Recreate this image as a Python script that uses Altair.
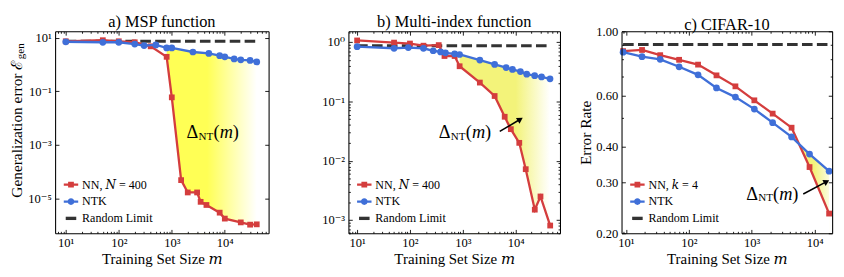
import altair as alt
import pandas as pd

FONT = "'Liberation Serif', 'Times New Roman', 'DejaVu Serif', serif"
RED = "#d43d3d"
BLUE = "#3f6fd8"
DARK = "#333333"

# ---------------- data: a) MSP function ----------------
a_nn_m = [10, 50, 100, 200, 400, 800, 1000, 1500, 2000, 3000, 3500, 4500, 8000, 10000, 20000, 30000, 40000]
a_nn_err = [7.4, 8.1, 7.4, 6.8, 4.8, 1.95, 0.060, 4.9e-5, 1.7e-5, 1.7e-5, 7.6e-6, 5.8e-6, 3.0e-6, 1.8e-6, 1.3e-6, 1.07e-6, 1.1e-6]
a_ntk_m = [10, 50, 100, 200, 300, 500, 800, 1000, 2500, 5000, 8000, 10000, 15000, 20000, 30000, 40000]
a_ntk_err = [7.1, 6.8, 6.8, 5.8, 5.1, 5.4, 4.2, 4.2, 2.95, 2.6, 2.15, 1.95, 1.62, 1.51, 1.43, 1.26]
a_random = 7.4

# ---------------- data: b) Multi-index function ----------------
b_nn_m = [10, 50, 100, 180, 350, 450, 700, 870, 2100, 4000, 6200, 8100, 11700, 15500, 23000, 29500, 45000]
b_nn_err = [1.06, 0.975, 0.94, 0.865, 0.885, 0.58, 0.58, 0.39, 0.207, 0.123, 0.055, 0.034, 0.020, 0.0072, 0.0015, 0.0025, 0.00081]
b_ntk_m = [10, 50, 93, 180, 275, 380, 470, 700, 870, 2100, 4000, 6600, 8700, 12300, 16200, 22900, 30900, 44700]
b_ntk_err = [0.834, 0.783, 0.804, 0.783, 0.711, 0.678, 0.655, 0.631, 0.615, 0.495, 0.419, 0.371, 0.344, 0.317, 0.287, 0.271, 0.258, 0.240]
b_random = 0.865

# ---------------- data: c) CIFAR-10 ----------------
c_m = [9, 18, 35, 70, 140, 275, 550, 1100, 2150, 4300, 8300, 17000]
c_ntk_err = [0.847, 0.817, 0.800, 0.754, 0.707, 0.637, 0.592, 0.538, 0.483, 0.431, 0.376, 0.328]
c_nn_err = [0.854, 0.862, 0.827, 0.797, 0.767, 0.704, 0.645, 0.577, 0.519, 0.464, 0.339, 0.234]
c_random = 0.9

# ---------------- tick labels ----------------
x_major = [10, 100, 1000, 10000]
x_major_labels = ["10¹", "10²", "10³", "10⁴"]
a_y_major = [10, 0.1, 0.001, 0.00001]
a_y_labels = ["10¹", "10⁻¹", "10⁻³", "10⁻⁵"]
b_y_major = [1, 0.1, 0.01, 0.001]
b_y_labels = ["10⁰", "10⁻¹", "10⁻²", "10⁻³"]
c_y_major = [0.2, 0.3, 0.4, 0.6, 1.0]
c_y_labels = ["0.20", "0.30", "0.40", "0.60", "1.00"]
c_y_minor = [0.5, 0.7, 0.8, 0.9]

# annotations (anchor of the Delta label, arrows)
a_ann = {"m": 1900, "err": 3.1e-3}
b_ann = {"m": 350, "err": 0.030}
c_ann = {"m": 815, "err": 0.274}
b_arrow = {"m": 5000, "err": 0.0311, "m2": 12200, "err2": 0.050, "angle": 328}
c_arrow = {"m": 6600, "err": 0.2735, "m2": 15500, "err2": 0.302, "angle": 331}

P_NN = "M-1,-0.16H1V0.16H-1Z M-0.4,-0.4H0.4V0.4H-0.4Z"
P_NTK = "M-1,-0.16H1V0.16H-1Z M0.47,0A0.47,0.47 0 1,1 -0.47,0A0.47,0.47 0 1,1 0.47,0Z"
P_RAND = "M-0.73,-0.23H0.73V0.23H-0.73Z"


def log_ticks(lo, hi):
    out = []
    for e in range(-8, 6):
        for k in range(1, 10):
            v = float(f"{k * 10.0 ** e:.6g}")
            if lo <= v <= hi:
                out.append(v)
    return out


def match_expr(vals):
    return " || ".join(f"abs(datum.value / {v!r} - 1) < 1e-6" for v in vals)


def label_expr(vals, labels):
    parts = [f"abs(datum.value / {v!r} - 1) < 1e-6 ? '{l}'" for v, l in zip(vals, labels)]
    return " : ".join(parts) + " : ''"


def make_panel(title, W, H, xdom, ydom, nn_m, nn_err, ntk_m, ntk_err, rnd, nn_label,
               y_major, y_labels, y_ticks, fill_start, fill_color, fade, fade_end_color,
               ann, arrow=None, ytitle=None, ytitle_xy=None, y_minext=None, gen_sub=False,
               title_offset=0):
    xs = alt.Scale(type="log", domain=xdom, nice=False)
    ys = alt.Scale(type="log", domain=ydom, nice=False)
    x_ticks = log_ticks(*xdom)
    xcond = {"condition": {"test": match_expr(x_major), "value": 4}, "value": 2}
    ycond = {"condition": {"test": match_expr(y_major), "value": 4}, "value": 2}
    tick_common = dict(labels=False, grid=False, domain=True, domainColor="black", domainWidth=1.1,
                       ticks=True, tickColor="black", tickWidth=0.9, zindex=2, title=None)
    x_lab = alt.Axis(orient="bottom", values=x_major, labelExpr=label_expr(x_major, x_major_labels),
                     ticks=False, domain=False, grid=False, labelFont=FONT, labelFontSize=13,
                     labelColor="black", labelPadding=4, labelFlush=False, labelOverlap=False,
                     title="Training Set Size 𝑚", titleFont=FONT, titleFontSize=15.5,
                     titleFontWeight="normal", titleColor="black", titlePadding=2, zindex=2)
    ykw = dict(orient="left", values=y_major, labelExpr=label_expr(y_major, y_labels), ticks=False,
               domain=False, grid=False, labelFont=FONT, labelFontSize=13, labelColor="black",
               labelPadding=4, labelFlush=False, labelOverlap=False, titleFont=FONT, titleFontSize=16,
               titleFontWeight="normal", titleColor="black", titlePadding=2, zindex=2)
    if ytitle is None:
        ykw["title"] = "\u00a0"
    else:
        ykw["title"] = ytitle
    if ytitle_xy is not None:
        ykw.update(titleX=ytitle_xy[0], titleY=ytitle_xy[1], titleAngle=270, titleAlign="right",
                   titleBaseline="alphabetic")
    if y_minext is not None:
        ykw["minExtent"] = y_minext
    y_lab = alt.Axis(**ykw)
    x_t1 = alt.Axis(orient="top", offset=-H, values=x_ticks, tickSize=xcond, **tick_common)
    x_t2 = alt.Axis(orient="bottom", offset=-H, values=x_ticks, tickSize=xcond, **tick_common)
    y_t1 = alt.Axis(orient="right", offset=-W, values=y_ticks, tickSize=ycond, **tick_common)
    y_t2 = alt.Axis(orient="left", offset=-W, values=y_ticks, tickSize=ycond, **tick_common)

    def X(f, axis=None):
        return alt.X(f, type="quantitative", scale=xs, axis=axis)

    def Y(f, axis=None):
        return alt.Y(f, type="quantitative", scale=ys, axis=axis)

    nn = pd.DataFrame({"m": nn_m, "err": nn_err})
    ntk = pd.DataFrame({"m": ntk_m, "err": ntk_err})
    fill_df = ntk[ntk["m"] >= fill_start].assign(base=ydom[0])
    white_df = nn.assign(base=ydom[0])
    rnd_df = pd.DataFrame({"m": [min(nn_m[0], ntk_m[0]), max(nn_m[-1], ntk_m[-1])], "err": [rnd, rnd]})

    grad = alt.Gradient(gradient="linear", x1=0, x2=1, y1=0, y2=0,
                        stops=[alt.GradientStop(color=fill_color, offset=0),
                               alt.GradientStop(color=fill_color, offset=fade),
                               alt.GradientStop(color=fade_end_color, offset=1)])
    yellow = alt.Chart(fill_df).mark_area(color=grad, opacity=1).encode(
        x=X("m", x_lab), y=Y("err", y_lab), y2="base:Q")
    white = alt.Chart(white_df).mark_area(color="white", opacity=1).encode(
        x=X("m", x_t1), y=Y("err", y_t1), y2="base:Q")
    rline = alt.Chart(rnd_df).mark_line(color=DARK, strokeWidth=3, strokeDash=[11, 4.5]).encode(
        x=X("m", x_t2), y=Y("err", y_t2))
    red = alt.Chart(nn).mark_line(color=RED, strokeWidth=2.4,
                                  point=alt.OverlayMarkDef(shape="square", filled=True, size=36,
                                                           color=RED, opacity=1)).encode(
        x=X("m"), y=Y("err"))
    blue = alt.Chart(ntk).mark_line(color=BLUE, strokeWidth=2.4,
                                    point=alt.OverlayMarkDef(shape="circle", filled=True, size=49,
                                                             color=BLUE, opacity=1)).encode(
        x=X("m"), y=Y("err"))

    labels = [nn_label, "NTK", "Random Limit"]
    leg = alt.Legend(orient="bottom-left", title=None, symbolSize=225, symbolStrokeWidth=0,
                     labelFont=FONT, labelFontSize=12.5, labelColor="black", labelOffset=4,
                     rowPadding=3.5, offset=9, padding=0, zindex=1)
    legend = alt.Chart(pd.DataFrame({"series": labels})).transform_filter("false").mark_point(
        filled=True, opacity=1).encode(
        color=alt.Color("series:N", scale=alt.Scale(domain=labels, range=[RED, BLUE, DARK]), legend=leg),
        shape=alt.Shape("series:N", scale=alt.Scale(domain=labels, range=[P_NN, P_NTK, P_RAND]), legend=leg))

    ann_df = pd.DataFrame([ann])

    def txt(t, dx, dy, size, style="normal"):
        return alt.Chart(ann_df).mark_text(text=t, align="left", baseline="middle", dx=dx, dy=dy,
                                           font=FONT, fontSize=size, fontStyle=style,
                                           color="black").encode(x=X("m"), y=Y("err"))

    layers = [yellow, white, rline, red, blue, legend,
              txt("Δ", 0, 0, 19), txt("NT", 12.5, 5, 11.5), txt("(", 28, 0, 19),
              txt("m", 34.5, 0, 19, "italic"), txt(")", 48, 0, 19)]
    if arrow is not None:
        adf = pd.DataFrame([arrow])
        layers.append(alt.Chart(adf).mark_rule(color="black", strokeWidth=1.6).encode(
            x=X("m"), y=Y("err"), x2="m2:Q", y2="err2:Q"))
        layers.append(alt.Chart(adf).mark_point(shape="triangle-right", filled=True, size=50,
                                                 color="black", opacity=1, angle=arrow["angle"]).encode(
            x=X("m2"), y=Y("err2")))
    if gen_sub:
        layers.append(alt.Chart(pd.DataFrame({"t": ["gen"]})).mark_text(
            text="gen", angle=270, align="left", baseline="alphabetic", font=FONT, fontSize=11.5,
            color="black").encode(x=alt.value(ytitle_xy[0] + 3), y=alt.value(ytitle_xy[1] - 1)))

    return alt.layer(*layers).resolve_axis(x="independent", y="independent").properties(
        width=W, height=H,
        title=alt.TitleParams(title, font=FONT, fontSize=17, fontWeight="normal", color="black",
                              offset=title_offset, anchor="middle", frame="group"))


H = 210
pa = make_panel("a) MSP function", 222, H, [6.3, 67000], [5.1e-7, 17.4],
                a_nn_m, a_nn_err, a_ntk_m, a_ntk_err, a_random, "NN, 𝑁 = 400",
                a_y_major, a_y_labels, a_y_major, 800, "#ffff55", 0.45, "#ffffff",
                a_ann, ytitle="Generalization error ℰ", ytitle_xy=(-35, 30), gen_sub=True,
                title_offset=0)
pb = make_panel("b) Multi-index function", 220, H, [6.85, 69000], [6.0e-4, 1.51],
                b_nn_m, b_nn_err, b_ntk_m, b_ntk_err, b_random, "NN, 𝑁 = 400",
                b_y_major, b_y_labels, log_ticks(6.0e-4, 1.51), 870, "#f3f37a", 0.62, "#ffffff",
                b_ann, arrow=b_arrow, y_minext=46, title_offset=0)
pc = make_panel("c) CIFAR-10", 219, H, [8.5, 19000], [0.2, 1.0],
                c_m, c_nn_err, c_m, c_ntk_err, c_random, "NN, 𝑘 = 4",
                c_y_major, c_y_labels, c_y_major + c_y_minor, 4300, "#f3f37a", 0.6, "#fbfbe0",
                c_ann, arrow=c_arrow, ytitle="Error Rate", title_offset=-8.5)

chart = alt.hconcat(pa, pb, pc, spacing=17).resolve_scale(
    x="independent", y="independent", color="independent", shape="independent").resolve_legend(
    color="independent", shape="independent").properties(padding=0).configure_view(stroke="transparent")

chart.save("out.html", embed_options={"renderer": "svg", "actions": False})
